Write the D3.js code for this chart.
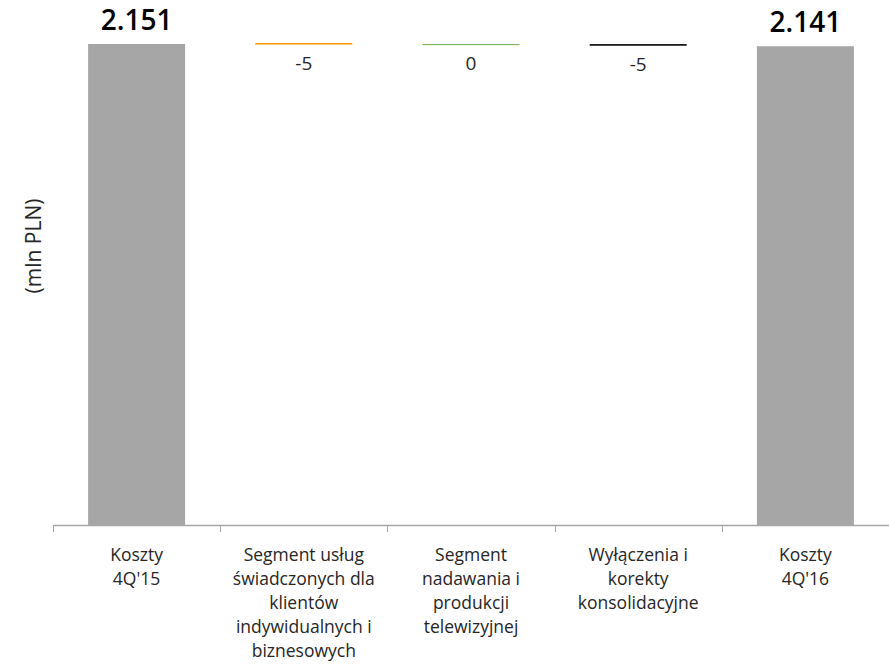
<!DOCTYPE html>
<html lang="pl">
<head>
<meta charset="utf-8">
<script src="https://cdn.jsdelivr.net/npm/d3@7/dist/d3.min.js"></script>
<style>
  html, body { margin: 0; padding: 0; background: #fff; }
  svg { display: block; font-family: "Open Sans", "Noto Sans", sans-serif; }
</style>
</head>
<body>
<svg id="chart" width="889" height="668"></svg>
<script>
// Categories of the cost bridge (label lines as drawn under the axis)
const categories = ["k15", "seg1", "seg2", "kor", "k16"];
const categoryLabels = [
  ["Koszty", "4Q'15"],
  ["Segment usług", "świadczonych dla", "klientów", "indywidualnych i", "biznesowych"],
  ["Segment", "nadawania i", "produkcji", "telewizyjnej"],
  ["Wyłączenia i", "korekty", "konsolidacyjne"],
  ["Koszty", "4Q'16"]
];
// Values in mln PLN: totals at both ends, changes in between
const values = [2151, -5, 0, -5, 2141];
const kinds = ["total", "delta", "delta", "delta", "total"];
const barColors = ["#a6a6a6", "#f59a0c", "#70ad47", "#000000", "#a6a6a6"];
const axisTitle = "(mln PLN)";

const plLocale = d3.formatLocale({ decimal: ",", thousands: ".", grouping: [3], currency: ["", " zł"], minus: "-" });
const fmt = plLocale.format(",d");

// Running totals give each bar its start and end
let running = 0;
const bars = categories.map((c, i) => {
  let start, end;
  if (kinds[i] === "total") { start = 0; end = values[i]; running = values[i]; }
  else { start = running; end = running + values[i]; running = end; }
  return { key: c, value: values[i], kind: kinds[i], start, end, color: barColors[i], lines: categoryLabels[i] };
});

const svg = d3.select("#chart");
const left = 53, right = 889, baseY = 525, topY = 44;

const x = d3.scaleBand().domain(categories).range([left, right]).paddingInner(0.42).paddingOuter(0.21);
const yMax = d3.max(bars, d => Math.max(d.start, d.end));
const y = d3.scaleLinear().domain([0, yMax]).range([baseY, topY]);

// Bars
const g = svg.append("g");
bars.forEach(d => {
  const y0 = y(Math.max(d.start, d.end));
  const y1 = y(Math.min(d.start, d.end));
  if (d.value === 0) {
    g.append("line")
      .attr("x1", x(d.key)).attr("x2", x(d.key) + x.bandwidth())
      .attr("y1", y0 - 0.5).attr("y2", y0 - 0.5)
      .attr("stroke", d.color).attr("stroke-width", 1);
  } else {
    const h = Math.max(y1 - y0, d.kind === "delta" ? 1.6 : 0);
    g.append("rect")
      .attr("x", x(d.key)).attr("width", x.bandwidth())
      .attr("y", d.kind === "delta" ? y0 - 1 : y0).attr("height", h)
      .attr("fill", d.color);
  }
});

// Value labels: totals above the bar, changes below it
bars.forEach(d => {
  const cx = x(d.key) + x.bandwidth() / 2;
  if (d.kind === "total") {
    svg.append("text").attr("x", cx).attr("y", y(d.end) - 14)
      .attr("text-anchor", "middle").attr("font-size", 28).attr("font-weight", 600)
      .attr("fill", "#000").text(fmt(d.value));
  } else {
    svg.append("text").attr("x", cx).attr("y", y(Math.min(d.start, d.end)) + 25)
      .attr("text-anchor", "middle").attr("font-size", 19)
      .attr("fill", "#262626").text(fmt(d.value));
  }
});

// Category axis: baseline with ticks at the cell boundaries
const axisG = svg.append("g");
axisG.append("line").attr("x1", left).attr("x2", right).attr("y1", baseY + 0.5).attr("y2", baseY + 0.5)
  .attr("stroke", "#a6a6a6").attr("stroke-width", 1.5);
const step = x.step();
d3.range(categories.length).forEach(i => {
  const tx = Math.round(left + i * step) + 0.5;
  axisG.append("line").attr("x1", tx).attr("x2", tx).attr("y1", baseY).attr("y2", baseY + 7)
    .attr("stroke", "#a6a6a6").attr("stroke-width", 1);
});

// Category labels
bars.forEach(d => {
  const cx = x(d.key) + x.bandwidth() / 2;
  const t = svg.append("text").attr("text-anchor", "middle").attr("font-size", 17.5).attr("fill", "#262626");
  d.lines.forEach((ln, j) => {
    t.append("tspan").attr("x", cx).attr("y", 561 + j * 24).text(ln);
  });
});

// Axis title
svg.append("text")
  .attr("transform", "translate(41,246) rotate(-90)")
  .attr("text-anchor", "middle").attr("font-size", 21).attr("fill", "#262626")
  .text(axisTitle);
</script>
</body>
</html>
